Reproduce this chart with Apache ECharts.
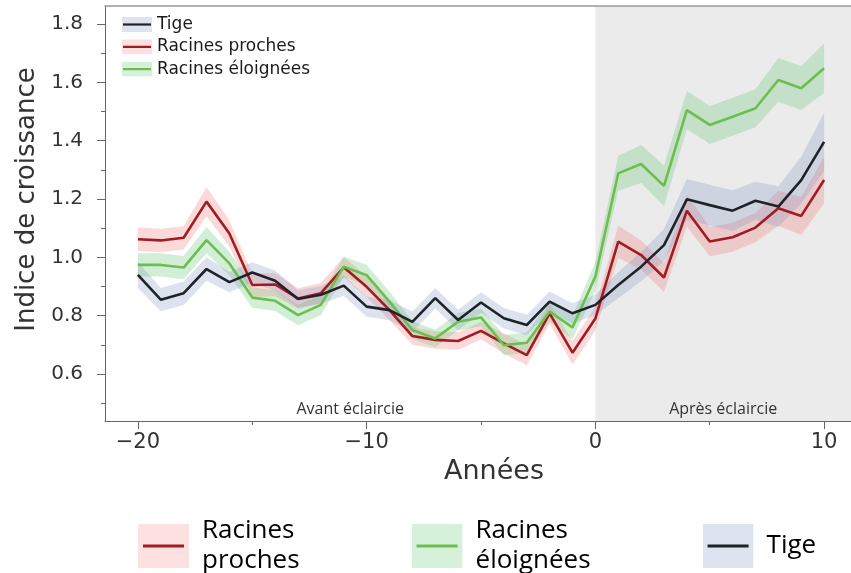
<!DOCTYPE html>
<html>
<head>
<meta charset="utf-8">
<script src="https://cdn.jsdelivr.net/npm/echarts@6/dist/echarts.min.js"></script>
<style>
html,body{margin:0;padding:0;background:#fff;}
#chart{width:851px;height:573px;}
</style>
</head>
<body>
<div id="chart"></div>
<script>
// ---- data ----
const years = [-20,-19,-18,-17,-16,-15,-14,-13,-12,-11,-10,-9,-8,-7,-6,-5,-4,-3,-2,-1,0,1,2,3,4,5,6,7,8,9,10];

const tige = [0.940,0.855,0.877,0.960,0.915,0.948,0.920,0.857,0.872,0.903,0.831,0.819,0.779,0.860,0.785,0.845,0.791,0.768,0.848,0.808,0.837,0.905,0.968,1.042,1.199,1.179,1.160,1.194,1.174,1.265,1.396];
const tigeErr = [0.045,0.040,0.040,0.040,0.035,0.035,0.035,0.030,0.030,0.035,0.035,0.035,0.035,0.035,0.035,0.035,0.035,0.035,0.035,0.035,0.035,0.045,0.050,0.055,0.070,0.070,0.070,0.065,0.070,0.080,0.100];

const proches = [1.062,1.058,1.067,1.191,1.082,0.905,0.907,0.859,0.877,0.966,0.899,0.819,0.730,0.717,0.713,0.748,0.705,0.665,0.808,0.673,0.790,1.054,1.008,0.931,1.160,1.054,1.069,1.102,1.168,1.142,1.265];
const prochesErr = [0.040,0.040,0.040,0.050,0.045,0.040,0.040,0.035,0.035,0.035,0.035,0.035,0.030,0.030,0.030,0.030,0.035,0.035,0.035,0.040,0.040,0.055,0.050,0.050,0.055,0.050,0.050,0.050,0.060,0.065,0.080];

const eloignees = [0.974,0.974,0.965,1.059,0.979,0.862,0.851,0.802,0.837,0.968,0.939,0.848,0.751,0.722,0.779,0.794,0.699,0.707,0.814,0.760,0.934,1.288,1.320,1.245,1.505,1.454,1.482,1.511,1.608,1.580,1.648];
const eloigneesErr = [0.040,0.040,0.040,0.045,0.040,0.035,0.035,0.035,0.035,0.035,0.035,0.035,0.030,0.030,0.030,0.030,0.035,0.035,0.035,0.040,0.050,0.060,0.065,0.070,0.065,0.065,0.065,0.065,0.075,0.075,0.085];

const xMajorTicks = [-20,-10,0,10];
const xMinorTicks = [-15,-5,5];
const yMajorTicks = [0.6,0.8,1.0,1.2,1.4,1.6,1.8];
const yMinorTicks = [0.5,0.7,0.9,1.1,1.3,1.5,1.7];

const XMIN = -21.438, XMAX = 11.176;
const YMIN = 0.4389, YMAX = 1.8617;

// ---- styles ----
const COLORS = {
  'Tige': {line:'#1f2329', band:'rgba(130,150,195,0.28)', patch:'#dde3ef'},
  'Racines proches': {line:'#a01c22', band:'rgba(245,120,120,0.28)', patch:'#fde1e1'},
  'Racines éloignées': {line:'#6cbf4f', band:'rgba(110,200,120,0.30)', patch:'#d6f0da'}
};

function icon(w,h,fill,stroke,lw,inset){
  const svg = "<svg xmlns='http://www.w3.org/2000/svg' width='"+w+"' height='"+h+"'>"+
    "<rect width='"+w+"' height='"+h+"' fill='"+fill+"'/>"+
    "<line x1='"+inset+"' y1='"+(h/2)+"' x2='"+(w-inset)+"' y2='"+(h/2)+"' stroke='"+stroke+"' stroke-width='"+lw+"'/></svg>";
  return 'image://data:image/svg+xml;charset=utf-8,' + encodeURIComponent(svg);
}

function bandData(vals, err){ return years.map((x,i)=>[x, +(vals[i]-err[i]).toFixed(4), +(vals[i]+err[i]).toFixed(4)]); }
function lineData(vals){ return years.map((x,i)=>[x, vals[i]]); }

function bandSeries(name, vals, err){
  const col = COLORS[name].band;
  return {
    name: name + ' (IC)', type:'custom', z:2, silent:true,
    encode:{x:0, y:[1,2]},
    data: bandData(vals, err),
    renderItem: function(params, api){
      if (params.dataIndexInside !== 0) return null;
      const n = params.dataInsideLength;
      const top = [], bot = [];
      for (let i=0;i<n;i++){
        const x = api.value(0,i);
        top.push(api.coord([x, api.value(2,i)]));
        bot.push(api.coord([x, api.value(1,i)]));
      }
      return {type:'polygon', shape:{points: top.concat(bot.reverse())}, style:{fill: col}, silent:true};
    }
  };
}

function lineSeries(name, vals, extra){
  const s = {
    name: name, type:'line', z:3, symbol:'none',
    data: lineData(vals),
    lineStyle:{color: COLORS[name].line, width:2.6},
    itemStyle:{color: COLORS[name].line}
  };
  return Object.assign(s, extra||{});
}

const FONT = 'DejaVu Sans';
const chart = echarts.init(document.getElementById('chart'), null, {renderer:'canvas'});

const periodLabel = {fontFamily:'Open Sans', fontSize:16, color:'#333', position:'insideBottom', distance:4};

chart.setOption({
  animation:false,
  backgroundColor:'#fff',
  grid:{left:105, right:-2, top:6, bottom:152, containLabel:false},
  xAxis:[
    {type:'value', position:'bottom', min:XMIN, max:XMAX, z:4,
     axisLine:{show:true, onZero:false, lineStyle:{color:'#666', width:1}},
     axisTick:{show:true, customValues:xMajorTicks, length:8, lineStyle:{color:'#666'}},
     axisLabel:{show:true, customValues:xMajorTicks, margin:11, fontFamily:FONT, fontSize:21, color:'#333',
       formatter:v=> v<0 ? '\u2212'+(-v) : String(v)},
     splitLine:{show:false},
     name:'Années', nameLocation:'middle', nameGap:37,
     nameTextStyle:{fontFamily:FONT, fontSize:27, color:'#333', padding:[0,0,0,32]}},
    {type:'value', position:'bottom', min:XMIN, max:XMAX, z:4,
     axisLine:{show:false, onZero:false},
     axisTick:{show:true, customValues:xMinorTicks, length:4, lineStyle:{color:'#666'}},
     axisLabel:{show:false}, splitLine:{show:false}},
    {type:'value', position:'top', min:XMIN, max:XMAX, z:4,
     axisLine:{show:true, onZero:false, lineStyle:{color:'#999', width:1.5}},
     axisTick:{show:false}, axisLabel:{show:false}, splitLine:{show:false}}
  ],
  yAxis:[
    {type:'value', position:'left', min:YMIN, max:YMAX, z:4,
     axisLine:{show:true, onZero:false, lineStyle:{color:'#666', width:1}},
     axisTick:{show:true, customValues:yMajorTicks, length:8, lineStyle:{color:'#666'}},
     axisLabel:{show:true, customValues:yMajorTicks, margin:22, fontFamily:FONT, fontSize:20, color:'#333',
       formatter:v=> v.toFixed(1)},
     splitLine:{show:false},
     name:'Indice de croissance', nameLocation:'middle', nameGap:57, nameRotate:90,
     nameTextStyle:{fontFamily:FONT, fontSize:26, color:'#333', padding:[0,0,0,28]}},
    {type:'value', position:'left', min:YMIN, max:YMAX, z:4,
     axisLine:{show:false, onZero:false},
     axisTick:{show:true, customValues:yMinorTicks, length:4, lineStyle:{color:'#666'}},
     axisLabel:{show:false}, splitLine:{show:false}}
  ],
  legend:[
    {orient:'vertical', left:122, top:16, padding:0, itemWidth:30, itemHeight:15, itemGap:5.3,
     selectedMode:false,
     textStyle:{fontFamily:FONT, fontSize:17, color:'#1a1a1a', lineHeight:17},
     data:['Tige','Racines proches','Racines éloignées'].map(n=>({name:n, icon:icon(30,15,COLORS[n].patch,COLORS[n].line,2.2,1)}))},
    {orient:'horizontal', left:138, top:510, padding:0, itemWidth:51, itemHeight:44, itemGap:112,
     selectedMode:false,
     formatter: n => n==='Racines proches' ? 'Racines\nproches' : (n==='Racines éloignées' ? 'Racines\néloignées' : n),
     textStyle:{fontFamily:'Open Sans', fontSize:26, color:'#000', lineHeight:30, padding:[0,0,12,8]},
     data:['Racines proches','Racines éloignées','Tige'].map(n=>({name:n, icon:icon(51,44,COLORS[n].patch,COLORS[n].line,3,5)}))}
  ],
  series:[
    bandSeries('Racines proches', proches, prochesErr),
    bandSeries('Racines éloignées', eloignees, eloigneesErr),
    bandSeries('Tige', tige, tigeErr),
    lineSeries('Racines proches', proches),
    lineSeries('Racines éloignées', eloignees),
    lineSeries('Tige', tige, {
      markArea:{silent:true, z:1,
        data:[
          [{xAxis:XMIN, itemStyle:{color:'rgba(0,0,0,0)'}, label:Object.assign({show:true, formatter:'Avant éclaircie'}, periodLabel)}, {xAxis:0}],
          [{xAxis:0, itemStyle:{color:'#ebebeb'}, label:Object.assign({show:true, formatter:'Après éclaircie'}, periodLabel)}, {xAxis:XMAX}]
        ]}
    })
  ]
});
</script>
</body>
</html>
